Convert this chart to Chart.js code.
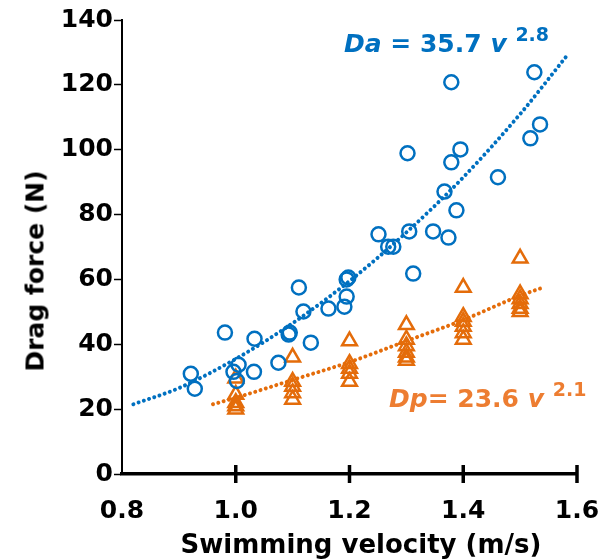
<!DOCTYPE html>
<html>
<head>
<meta charset="utf-8">
<script src="https://cdn.jsdelivr.net/npm/chart.js@4.4.1/dist/chart.umd.min.js"></script>
<style>
  html, body { margin: 0; padding: 0; background: #fff; }
  #wrap { position: relative; width: 606px; height: 560px; }
  .txt { position: absolute; font-family: 'DejaVu Sans', Verdana, sans-serif; font-weight: bold; white-space: nowrap; line-height: 1; }
  .eq { font-size: 25px; }
  .eq sup { font-size: 19px; vertical-align: 0; position: relative; top: -11px; }
  #eqDa { color: #0070C0; left: 344px; top: 31px; }
  #eqDp { color: #ED7D31; left: 389px; top: 386px; }
  #yTitle { font-size: 25px; left: 35px; top: 271px; transform: translate(-50%, -50%) rotate(-90deg); }
  #xTitle { font-size: 26px; left: 361px; top: 544px; transform: translate(-50%, -50%); }
</style>
</head>
<body>
<div id="wrap">
  <canvas id="chart" width="606" height="560"></canvas>
  <div class="txt eq" id="eqDa"><i>Da</i> = 35.7 <i>v</i> <sup>2.8</sup></div>
  <div class="txt eq" id="eqDp"><i>Dp</i>= 23.6 <i>v</i> <sup>2.1</sup></div>
  <div class="txt" id="yTitle">Drag force (N)</div>
  <div class="txt" id="xTitle">Swimming velocity (m/s)</div>
</div>
<script>
// active drag (circles)
const daVelocity = [0.921, 0.928, 0.981, 0.996, 1.005, 1.002, 1.033, 1.032, 1.075, 1.093, 1.095, 1.111, 1.119, 1.132,
  1.163, 1.191, 1.195, 1.195, 1.198, 1.251, 1.268, 1.277, 1.305, 1.302, 1.312, 1.347, 1.374, 1.367, 1.388, 1.379,
  1.395, 1.379, 1.461, 1.518, 1.535, 1.525];
const daForce = [30.9, 26.3, 43.6, 31.5, 33.7, 28.7, 41.7, 31.5, 34.3, 43.0, 43.6, 57.5, 50.1, 40.5,
  51.0, 51.6, 54.7, 60.0, 60.6, 73.9, 70.1, 70.1, 74.8, 98.9, 61.8, 74.8, 72.9, 87.1, 81.3, 96.1,
  100.1, 120.8, 91.5, 103.5, 107.8, 123.9];

// passive drag (triangles)
const dpVelocity = [1.0, 1.0, 1.0, 1.0, 1.0,
  1.1, 1.1, 1.1, 1.1, 1.1,
  1.2, 1.2, 1.2, 1.2, 1.2,
  1.3, 1.3, 1.3, 1.3, 1.3, 1.3,
  1.4, 1.4, 1.4, 1.4, 1.4, 1.4,
  1.5, 1.5, 1.5, 1.5, 1.5, 1.5];
const dpForce = [29.5, 24.5, 22, 21, 20,
  36, 28.5, 27, 25, 23,
  41, 34, 32.5, 31, 28.5,
  46, 41.5, 39.5, 37.5, 36, 35,
  57.5, 48.5, 47, 45.5, 43.5, 41.5,
  66.5, 55.5, 54, 52.5, 51, 50];

// fitted curves
const daFitV = [0.82, 0.9, 1.0, 1.1, 1.2, 1.3, 1.4, 1.5, 1.58];
const daFitF = [21.5, 26.5, 35.5, 46.5, 59.5, 74.5, 91.5, 111, 128.5];
const dpFitV = [0.96, 1.0, 1.1, 1.2, 1.3, 1.4, 1.5, 1.54];
const dpFitF = [21.5, 23.5, 29, 34.5, 41, 47.5, 55, 57.5];

const xTicks = [0.8, 1.0, 1.2, 1.4, 1.6];
const yTicks = [0, 20, 40, 60, 80, 100, 120, 140];

const BLUE = '#0070C0', ORANGE = '#E46C0A';
const tickFont = { family: "'DejaVu Sans', Verdana, sans-serif", size: 25, weight: 'bold' };

function pts(xs, ys) { return xs.map((x, i) => ({ x: x, y: ys[i] })); }

// x axis tick marks cross the axis line
const crossTicks = {
  id: 'crossTicks',
  afterDraw(chart) {
    const ctx = chart.ctx, sx = chart.scales.x, y0 = chart.chartArea.bottom;
    ctx.save();
    ctx.strokeStyle = '#000'; ctx.lineWidth = 3.5;
    xTicks.slice(1).forEach(v => {
      const px = sx.getPixelForValue(v);
      ctx.beginPath(); ctx.moveTo(px, y0 - 9); ctx.lineTo(px, y0 + 9); ctx.stroke();
    });
    ctx.restore();
  }
};

new Chart(document.getElementById('chart'), {
  type: 'scatter',
  data: {
    datasets: [
      { data: pts(daFitV, daFitF), showLine: true, borderColor: BLUE, borderWidth: 4, borderDash: [0.01, 5.5],
        borderCapStyle: 'round', pointRadius: 0, cubicInterpolationMode: 'monotone', order: 3 },
      { data: pts(dpFitV, dpFitF), showLine: true, borderColor: ORANGE, borderWidth: 4, borderDash: [0.01, 5.5],
        borderCapStyle: 'round', pointRadius: 0, cubicInterpolationMode: 'monotone', order: 3 },
      { data: pts(daVelocity, daForce), pointStyle: 'circle', pointRadius: 7, pointBorderWidth: 2.5,
        borderColor: BLUE, backgroundColor: 'rgba(0,0,0,0)', order: 1 },
      { data: pts(dpVelocity, dpForce), pointStyle: 'triangle', pointRadius: 8.5, pointBorderWidth: 2.5,
        borderColor: ORANGE, backgroundColor: 'rgba(0,0,0,0)', order: 2 }
    ]
  },
  options: {
    responsive: false,
    animation: false,
    layout: { padding: { top: 20, right: 29, left: 0, bottom: 0 } },
    plugins: { legend: { display: false }, tooltip: { enabled: false } },
    scales: {
      x: {
        type: 'linear', min: 0.8, max: 1.6,
        afterBuildTicks: s => { s.ticks = xTicks.map(v => ({ value: v })); },
        afterFit: s => { s.height = 86; s.paddingLeft = 0; s.paddingRight = 0; },
        border: { color: '#000', width: 3.5 },
        grid: { display: true, drawOnChartArea: false, drawTicks: false },
        ticks: { color: '#000', font: tickFont, padding: 22, callback: v => v.toFixed(1) }
      },
      y: {
        min: 0, max: 140,
        afterBuildTicks: s => { s.ticks = yTicks.map(v => ({ value: v })); },
        afterFit: s => { s.width = 122; },
        border: { color: '#000', width: 2 },
        grid: { drawOnChartArea: false, color: '#000', tickLength: 8, tickWidth: 1.5 },
        ticks: { color: '#000', font: tickFont, padding: 1 }
      }
    }
  },
  plugins: [crossTicks]
});
</script>
</body>
</html>
